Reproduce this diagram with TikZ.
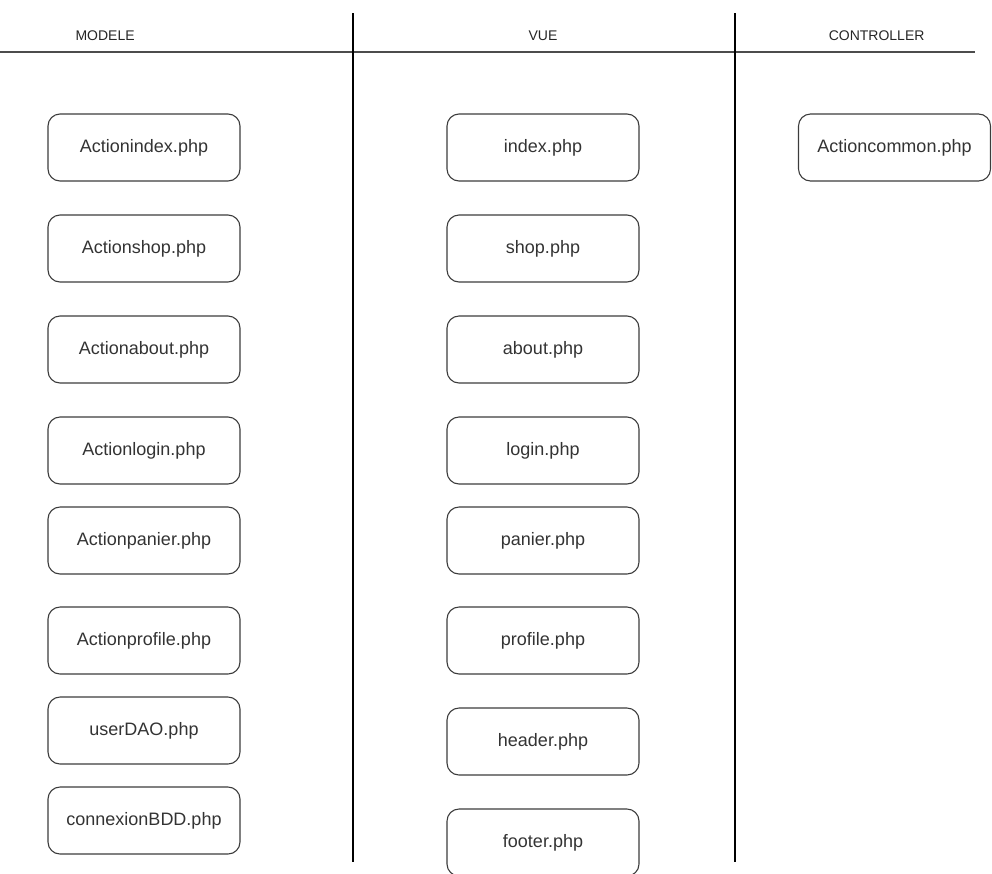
\documentclass[tikz,border=0pt]{standalone}
\usepackage{fontspec}
\setmainfont{Liberation Sans}
\definecolor{trait_gris}{RGB}{60, 60, 60}
\tikzset{
  fichier/.style={draw=trait_gris, line width=1.1pt, rounded corners=12pt,
    minimum width=192pt, minimum height=67pt, inner sep=0pt,
    font=\fontsize{18}{20}\selectfont, text=black!80},
  colonne/.style={font=\fontsize{14}{16}\selectfont, text=black!85}
}
\begin{document}
\begin{tikzpicture}[x=1pt, y=-1pt]
\useasboundingbox (0,0) rectangle (992,873);
% titres des colonnes
\node[colonne, anchor=base west] (modele) at (72,40) {MODELE};
\node[colonne, anchor=base] (vue) at (543,40) {VUE};
\node[colonne, anchor=base east] (controller) at (928,40) {CONTROLLER};
\draw[line width=2pt, black!70] (0,52) -- (975,52);
\draw[line width=1.5pt] (353,13) -- (353,862) (735,13) -- (735,862);
% MODELE
\node[fichier] (aindex) at (144,147.5) {Actionindex.php};
\node[fichier] (ashop) at (144,248.5) {Actionshop.php};
\node[fichier] (aabout) at (144,349.5) {Actionabout.php};
\node[fichier] (alogin) at (144,450.5) {Actionlogin.php};
\node[fichier] (apanier) at (144,540.5) {Actionpanier.php};
\node[fichier] (aprofile) at (144,640.5) {Actionprofile.php};
\node[fichier] (userdao) at (144,730.5) {userDAO.php};
\node[fichier] (connexion) at (144,820.5) {connexionBDD.php};
% VUE
\node[fichier] (index) at (543,147.5) {index.php};
\node[fichier] (shop) at (543,248.5) {shop.php};
\node[fichier] (about) at (543,349.5) {about.php};
\node[fichier] (login) at (543,450.5) {login.php};
\node[fichier] (panier) at (543,540.5) {panier.php};
\node[fichier] (profile) at (543,640.5) {profile.php};
\node[fichier] (header) at (543,741.5) {header.php};
\node[fichier] (footer) at (543,842.5) {footer.php};
% CONTROLLER
\node[fichier] (acommon) at (894.5,147.5) {Actioncommon.php};
\end{tikzpicture}
\end{document}
